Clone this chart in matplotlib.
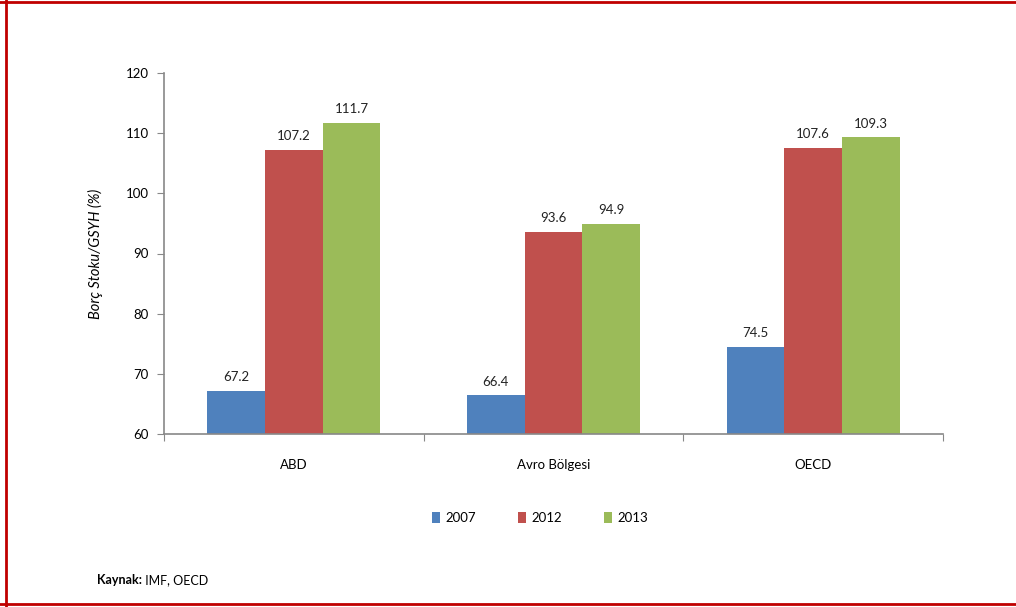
import numpy as np
import matplotlib
matplotlib.use('Agg')
import matplotlib.pyplot as plt
from matplotlib.lines import Line2D

plt.rcParams['font.family'] = ['Lato', 'DejaVu Sans']

# data
regions = ['ABD', 'Avro Bölgesi', 'OECD']
years = ['2007', '2012', '2013']
v2007 = [67.2, 66.4, 74.5]
v2012 = [107.2, 93.6, 107.6]
v2013 = [111.7, 94.9, 109.3]
colors = ['#4F81BD', '#C0504D', '#9BBB59']

fig = plt.figure(figsize=(10.16, 6.07), dpi=100)
W, H = 1016, 607
ax = fig.add_axes([164 / W, 1 - 434 / H, (943 - 164) / W, (434 - 73) / H])

x = np.arange(len(regions))
bw = 0.222
for i, (vals, yr) in enumerate(zip([v2007, v2012, v2013], years)):
    pos = x + (i - 1) * bw
    ax.bar(pos, np.array(vals) - 60, bw, bottom=60, color=colors[i], label=yr)
    for p, v in zip(pos, vals):
        ax.text(p, v + 1.3, f'{v:.1f}', ha='center', va='bottom', fontsize=9.5, color='#222222')

ax.set_xlim(-0.5, 2.5)
ax.set_ylim(60, 120)
ax.set_yticks(range(60, 121, 10))
ax.set_xticks([-0.5, 0.5, 1.5, 2.5], minor=False)
ax.set_xticklabels([])
ax.set_xticks(x, minor=True)
ax.set_xticklabels(regions, minor=True)
ax.tick_params(axis='x', which='minor', length=0, pad=18, labelsize=9.5)
ax.tick_params(axis='x', which='major', length=5, color='#888888', direction='out')
ax.tick_params(axis='y', length=5, color='#888888', labelsize=9.5, pad=6)
for s in ['top', 'right']:
    ax.spines[s].set_visible(False)
for s in ['left', 'bottom']:
    ax.spines[s].set_color('#888888')
    ax.spines[s].set_linewidth(1.2)

ax.set_ylabel('Borç Stoku/GSYH (%)', fontstyle='italic', fontsize=10.5, labelpad=16)

ax.legend(loc='center', bbox_to_anchor=(540 / W, 1 - 518 / H), bbox_transform=fig.transFigure,
          ncol=3, frameon=False, fontsize=9.5, handlelength=0.6, handleheight=0.9,
          columnspacing=3.2, handletextpad=0.4)

src = fig.text(97 / W, 1 - 580 / H, 'Kaynak:', fontsize=9, fontweight='bold', va='center')
fig.text(0, 0, '')
ax.annotate(' IMF, OECD', xy=(1, 0.5), xycoords=src, fontsize=9, va='center', annotation_clip=False)

# red frame (no right edge)
red = '#C00000'
fig.add_artist(Line2D([0, 1], [1 - 1.5 / H, 1 - 1.5 / H], color=red, lw=2, transform=fig.transFigure))
fig.add_artist(Line2D([6 / W, 6 / W], [0, 1], color=red, lw=2, transform=fig.transFigure))
fig.add_artist(Line2D([0, 1], [1 - 604 / H, 1 - 604 / H], color=red, lw=2, transform=fig.transFigure))

fig.savefig('out.png', dpi=100)
